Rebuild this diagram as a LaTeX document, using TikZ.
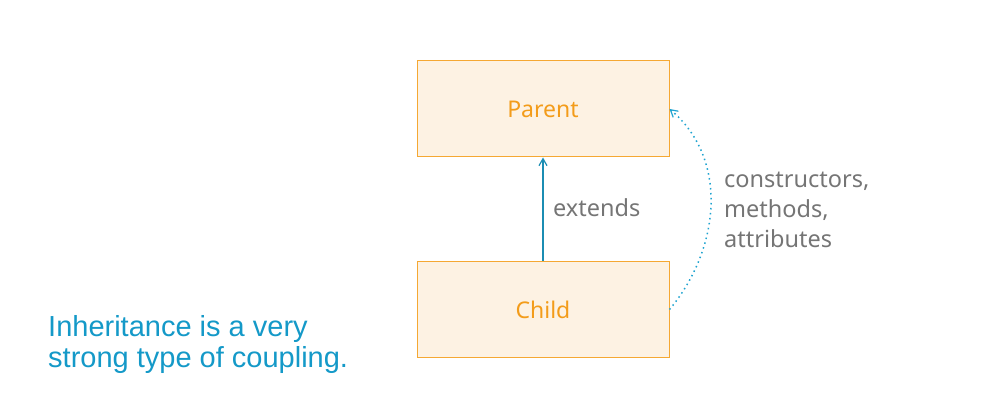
\documentclass[tikz,border=0pt]{standalone}
\usepackage{fontspec}
\setmainfont{Noto Sans}
\newfontfamily\bluefont{Liberation Sans}
\usetikzlibrary{arrows.meta}
\definecolor{boxfill}{HTML}{FDF2E3}
\definecolor{boxdraw}{HTML}{F5A833}
\definecolor{orangetext}{HTML}{F39C1A}
\definecolor{arrowblue}{HTML}{1B8DB3}
\definecolor{dotblue}{HTML}{1FA3D0}
\definecolor{graytext}{HTML}{757575}
\definecolor{bluetext}{HTML}{1499C8}
\tikzset{
  classbox/.style={draw=boxdraw, fill=boxfill, line width=1pt, minimum width=252pt, minimum height=96pt, inner sep=0pt, text=orangetext, font=\fontsize{23}{28}\selectfont},
  graylabel/.style={text=graytext, font=\fontsize{23.5}{30}\selectfont, inner sep=0pt, align=left},
  extarrow/.style={draw=arrowblue, line width=1.3pt, -{Straight Barb[length=7pt,width=8pt,line width=1.2pt]}},
  dotarrow/.style={draw=dotblue, line width=1.5pt, dash pattern=on 1.5pt off 3.5pt, -{Straight Barb[length=7pt,width=8pt,line width=1.2pt]}}
}
\begin{document}
\begin{tikzpicture}[x=1pt,y=1pt]
\useasboundingbox (0,0) rectangle (999,410);
\node[classbox] (parent) at (543,301) {Parent};
\node[classbox] (child) at (543,100.5) {Child};
\draw[extarrow] (child.north) -- (parent.south);
\node[graylabel, anchor=base west] (ext) at (553,193) {extends};
\draw[dotarrow] (child.east) to[out=50,in=-40] (parent.east);
\node[graylabel, anchor=north west] (attrs) at (724,238) {constructors,\\methods,\\attributes};
\node[text=bluetext, font=\bluefont\fontsize{29}{31.5}\selectfont, inner sep=0pt, align=left, anchor=north west] (note) at (48,95) {Inheritance is a very\\strong type of coupling.};
\end{tikzpicture}
\end{document}
